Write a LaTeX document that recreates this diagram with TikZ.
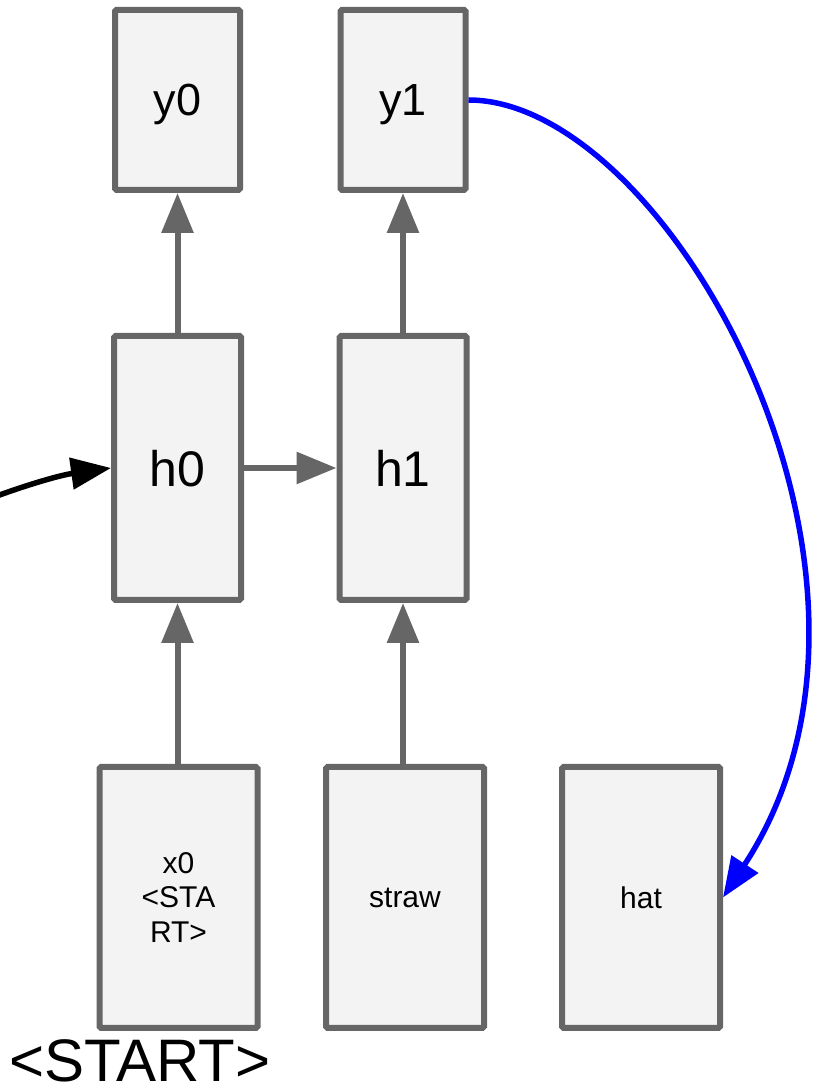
\documentclass[tikz,border=0pt]{standalone}
\usepackage{fontspec}
\setmainfont{Liberation Sans}
\usetikzlibrary{arrows.meta}
\definecolor{boxline}{HTML}{666666}
\definecolor{boxfill}{HTML}{F3F3F3}

\begin{document}
\begin{tikzpicture}[x=1pt, y=1pt,
  cell/.style={draw=boxline, fill=boxfill, line width=6pt, rounded corners=1.5pt, inner sep=0pt},
  outcell/.style={cell, minimum width=125pt, minimum height=180pt, text depth=0pt, font=\fontsize{45}{54}\selectfont},
  hidcell/.style={cell, minimum width=127pt, minimum height=264pt, text depth=0pt, font=\fontsize{50}{60}\selectfont},
  incell/.style={cell, minimum width=158pt, minimum height=261pt, align=center, font=\fontsize{30}{34.5}\selectfont},
  grayarrow/.style={draw=boxline, line width=6pt, -{Triangle[length=40pt, width=31pt]}},
  blackarrow/.style={draw=black, line width=5.5pt, -{Triangle[length=40pt, width=31pt]}},
  bluearrow/.style={draw=blue, line width=5.5pt, -{Triangle[length=40pt, width=31pt]}}]
\useasboundingbox (0,0) rectangle (813,1090);
\node[outcell] (y0) at (177.5,990) {y0};
\node[outcell] (y1) at (403,990) {y1};
\node[hidcell] (h0) at (177.5,622) {h0};
\node[hidcell] (h1) at (403,622) {h1};
\node[incell] (x0) at (178.5,192.5) {x0\\<STA\\RT>};
\node[incell] (straw) at (405,192.5) {straw};
\node[incell] (hat) at (641,192.5) {hat};
\node[anchor=base, inner sep=0pt, font=\fontsize{60}{72}\selectfont] (start) at (140,9) {<START>};
\coordinate (feed) at (-6,593);
\draw[grayarrow] (h0) -- (y0);
\draw[grayarrow] (h1) -- (y1);
\draw[grayarrow] (h0.south |- x0.north) -- (h0.south);
\draw[grayarrow] (h1.south |- straw.north) -- (h1.south);
\draw[grayarrow] (h0.east) -- (h1.west);
\draw[blackarrow] (feed) to[out=20, in=188] (h0.west);
\draw[bluearrow] (y1.east) .. controls +(200,0) and +(210,320) .. (hat.east);
\end{tikzpicture}
\end{document}
